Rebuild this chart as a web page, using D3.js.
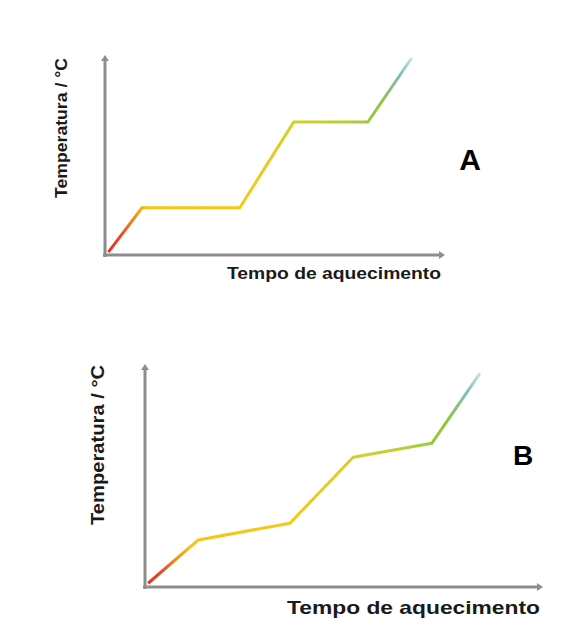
<!DOCTYPE html>
<html>
<head>
<meta charset="utf-8">
<script src="https://cdn.jsdelivr.net/npm/d3@7"></script>
<style>
  body { margin: 0; background: #fff; }
</style>
</head>
<body>
<div id="chart"></div>
<script>
// --- Data (arbitrary units, 0-100 on both axes) ---
const timeA = [1, 11, 40, 56, 78, 91];
const tempA = [1.5, 24, 24, 67.5, 67.5, 100];

const timeB = [0.8, 13.5, 36.7, 52.7, 72.6, 84.8];
const tempB = [1.7, 21.4, 29, 59, 65.3, 97.1];

const yLabel = "Temperatura / °C";
const xLabel = "Tempo de aquecimento";

// colour stops along the heating curve
const gradOffsets = [0, 0.04, 0.09, 0.13, 0.45, 0.62, 0.78, 0.9, 0.96, 1];
const gradColors = ["#e5321f", "#e94a22", "#f3951c", "#f7c513", "#f4c918", "#d3d02a", "#b6d03a", "#8fc43c", "#7fbfb6", "#c4e2e2"];

const W = 573, H = 622;

const svg = d3.select("#chart")
  .append("svg")
  .attr("width", W)
  .attr("height", H);

svg.append("rect").attr("width", W).attr("height", H).attr("fill", "#fff");

const defs = svg.append("defs");

function drawPanel(p) {
  const x = d3.scaleLinear().domain([0, 100]).range([p.x0, p.x1]);
  const y = d3.scaleLinear().domain([0, 100]).range([p.y0, p.y1]);
  const g = svg.append("g");

  // gradient along the line
  const pts = p.time.map((t, i) => [t, p.temp[i]]);
  const grad = defs.append("linearGradient")
    .attr("id", "grad-" + p.id)
    .attr("gradientUnits", "userSpaceOnUse")
    .attr("x1", x(pts[0][0])).attr("x2", x(pts[pts.length - 1][0]))
    .attr("y1", 0).attr("y2", 0);
  gradOffsets.forEach((o, i) => {
    grad.append("stop").attr("offset", o).attr("stop-color", gradColors[i]);
  });

  // axes
  const axisColor = "#8d8d8d";
  g.append("line")
    .attr("x1", x(0)).attr("x2", x(0))
    .attr("y1", y(0) + 2).attr("y2", y(100))
    .attr("stroke", axisColor).attr("stroke-width", 3);
  g.append("line")
    .attr("x1", x(0) - 2).attr("x2", x(100))
    .attr("y1", y(0)).attr("y2", y(0))
    .attr("stroke", axisColor).attr("stroke-width", 3);
  // small arrow tips
  g.append("path")
    .attr("d", `M${x(0) - 4},${y(100) + 3} L${x(0)},${y(100) - 3} L${x(0) + 4},${y(100) + 3}Z`)
    .attr("fill", axisColor);
  g.append("path")
    .attr("d", `M${x(100) - 3},${y(0) - 4} L${x(100) + 3},${y(0)} L${x(100) - 3},${y(0) + 4}Z`)
    .attr("fill", axisColor);

  // curve
  const line = d3.line().x(d => x(d[0])).y(d => y(d[1]));
  g.append("path")
    .datum(pts)
    .attr("d", line)
    .attr("fill", "none")
    .attr("stroke", `url(#grad-${p.id})`)
    .attr("stroke-width", 3)
    .attr("stroke-linejoin", "round");

  // labels
  g.append("text")
    .attr("transform", `translate(${p.yl.x},${p.yl.y}) rotate(-90)`)
    .attr("text-anchor", "middle")
    .attr("font-family", "Liberation Sans, Arial, sans-serif")
    .attr("font-weight", "bold")
    .attr("font-size", p.yl.size)
    .attr("textLength", p.yl.len)
    .attr("lengthAdjust", "spacingAndGlyphs")
    .attr("fill", "#1a1a1a")
    .text(yLabel);

  g.append("text")
    .attr("x", p.xl.x).attr("y", p.xl.y)
    .attr("font-family", "Liberation Sans, Arial, sans-serif")
    .attr("font-weight", "bold")
    .attr("font-size", p.xl.size)
    .attr("textLength", p.xl.len)
    .attr("lengthAdjust", "spacingAndGlyphs")
    .attr("fill", "#1a1a1a")
    .text(xLabel);

  g.append("text")
    .attr("x", p.tag.x).attr("y", p.tag.y)
    .attr("text-anchor", "middle")
    .attr("font-family", "Liberation Sans, Arial, sans-serif")
    .attr("font-weight", "bold")
    .attr("font-size", p.tag.size)
    .attr("fill", "#000")
    .text(p.id);
}

drawPanel({
  id: "A", time: timeA, temp: tempA,
  x0: 105, x1: 442, y0: 255, y1: 58,
  yl: { x: 67, y: 128, size: 16, len: 140 },
  xl: { x: 227, y: 279, size: 17, len: 214 },
  tag: { x: 470, y: 170, size: 30 }
});

drawPanel({
  id: "B", time: timeB, temp: tempB,
  x0: 145, x1: 540, y0: 587, y1: 367,
  yl: { x: 104, y: 445, size: 18, len: 160 },
  xl: { x: 287, y: 614, size: 19, len: 253 },
  tag: { x: 523, y: 465, size: 28 }
});
</script>
</body>
</html>
